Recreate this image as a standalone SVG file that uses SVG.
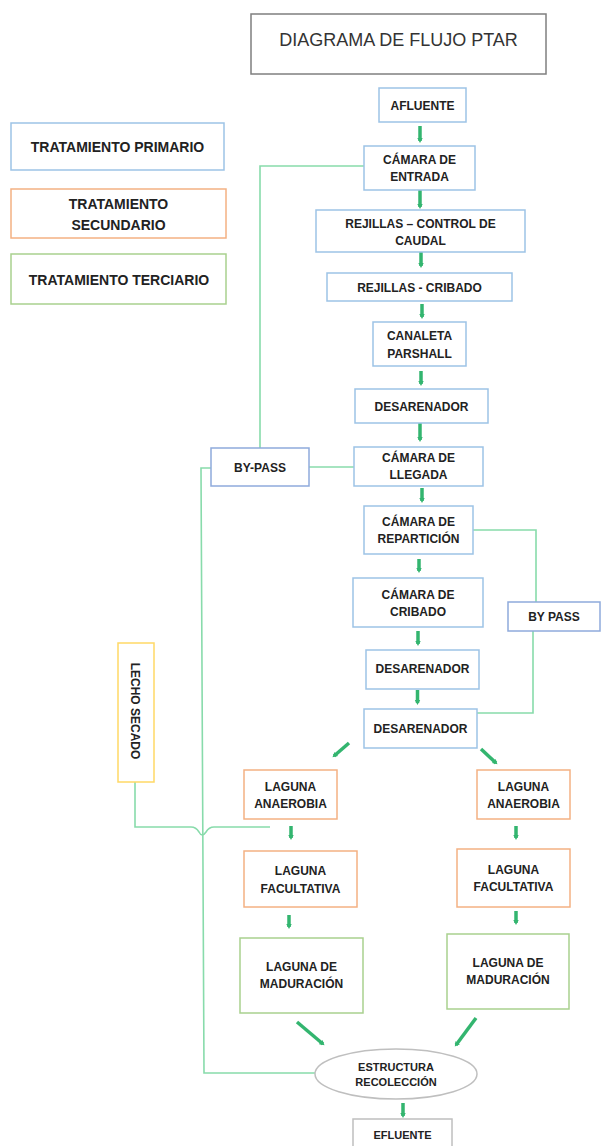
<svg xmlns="http://www.w3.org/2000/svg" width="605" height="1146" viewBox="0 0 605 1146">
<defs>
<marker id="ah" markerUnits="userSpaceOnUse" markerWidth="7" markerHeight="7" refX="3" refY="3.5" orient="auto">
<path d="M0,0.8 L5,3.5 L0,6.2 Z" fill="#33b56f"/>
</marker>
<style>
.bx{fill:#fff;stroke-width:1.5}
.blue{stroke:#9dc3e6}
.blue2{stroke:#8faadc}
.org{stroke:#f4b183}
.grn{stroke:#a9d18e}
.yel{stroke:#ffd966}
.gry{stroke:#bfbfbf}
.t{font-family:"Liberation Sans",Arial,sans-serif;font-weight:bold;font-size:12px;fill:#222;text-anchor:middle}
.lg{font-size:14px}
.sm{font-size:11px}
.con{fill:none;stroke:#88dbab;stroke-width:1.6}
.arr{fill:none;stroke:#33b56f;stroke-width:3.5;marker-end:url(#ah)}
</style>
</defs>
<rect width="605" height="1146" fill="#fff"/>

<g id="title">
<rect x="251" y="14" width="295" height="60" fill="#fff" stroke="#7f7f7f" stroke-width="1.5"/>
<text x="398.5" y="46" font-family="Liberation Sans,Arial,sans-serif" font-size="18" fill="#333" text-anchor="middle">DIAGRAMA DE FLUJO PTAR</text>
</g>

<g id="legend-primario"><rect class="bx blue" x="11" y="123" width="213" height="47"/><text class="t lg" x="117.5" y="152">TRATAMIENTO PRIMARIO</text></g>
<g id="legend-secundario"><rect class="bx org" x="11" y="189" width="215" height="49"/><text class="t lg" x="118.5" y="209">TRATAMIENTO</text><text class="t lg" x="118.5" y="230">SECUNDARIO</text></g>
<g id="legend-terciario"><rect class="bx grn" x="11" y="254" width="215" height="50"/><text class="t lg" x="119" y="285">TRATAMIENTO TERCIARIO</text></g>

<g id="connectors">
<path class="con" d="M364,166 H260 V448"/>
<path class="con" d="M309,467 H354"/>
<path class="con" d="M211,468 H201 L204,1073 H315"/>
<path class="con" d="M473,530 H536 V602"/>
<path class="con" d="M533,631 V713 H477"/>
<path class="con" d="M135,782 V827 H191 Q196,827 199,832 Q202,838 206,832 Q209,827 214,827 H270"/>
<line class="arr" x1="420" y1="126" x2="420" y2="141"/>
<line class="arr" x1="420" y1="190" x2="420" y2="207"/>
<line class="arr" x1="421" y1="252" x2="421" y2="266"/>
<line class="arr" x1="422" y1="304" x2="422" y2="317"/>
<line class="arr" x1="421" y1="371" x2="421" y2="384"/>
<line class="arr" x1="420" y1="423" x2="420" y2="440"/>
<line class="arr" x1="422" y1="488" x2="422" y2="501"/>
<line class="arr" x1="419" y1="559" x2="419" y2="571"/>
<line class="arr" x1="418" y1="631" x2="418" y2="644"/>
<line class="arr" x1="417.5" y1="690" x2="417.5" y2="703"/>
<line class="arr" x1="349" y1="743" x2="334" y2="756" stroke-width="4.5"/>
<line class="arr" x1="481" y1="749" x2="496" y2="763" stroke-width="4.5"/>
<line class="arr" x1="291" y1="826" x2="291" y2="838"/>
<line class="arr" x1="289" y1="915" x2="289" y2="927"/>
<line class="arr" x1="516" y1="826" x2="516" y2="838"/>
<line class="arr" x1="516" y1="911" x2="516" y2="923"/>
<line class="arr" x1="297" y1="1022" x2="323" y2="1044"/>
<line class="arr" x1="476" y1="1018" x2="456" y2="1045"/>
<line class="arr" x1="403" y1="1103" x2="403" y2="1116"/>
</g>

<g id="afluente"><rect class="bx blue" x="379" y="88" width="87" height="34"/><text class="t" x="422.5" y="109.5">AFLUENTE</text></g>
<g id="camara-entrada"><rect class="bx blue" x="364" y="146" width="111" height="44"/><text class="t" x="419.5" y="163.5">CÁMARA DE</text><text class="t" x="419.5" y="181">ENTRADA</text></g>
<g id="rejillas-control"><rect class="bx blue" x="316" y="210" width="209" height="42"/><text class="t" x="420.5" y="227.5">REJILLAS – CONTROL DE</text><text class="t" x="420.5" y="245">CAUDAL</text></g>
<g id="rejillas-cribado"><rect class="bx blue" x="327" y="273" width="185" height="28"/><text class="t" x="419.5" y="291.5">REJILLAS - CRIBADO</text></g>
<g id="canaleta"><rect class="bx blue" x="373" y="322" width="93" height="44"/><text class="t" x="419.5" y="340">CANALETA</text><text class="t" x="419.5" y="357.5">PARSHALL</text></g>
<g id="desarenador-1"><rect class="bx blue" x="355" y="389" width="133" height="34"/><text class="t" x="421.5" y="411">DESARENADOR</text></g>
<g id="camara-llegada"><rect class="bx blue" x="354" y="447" width="129" height="39"/><text class="t" x="418.5" y="462">CÁMARA DE</text><text class="t" x="418.5" y="479">LLEGADA</text></g>
<g id="by-pass-left"><rect class="bx blue2" x="211" y="448" width="98" height="38"/><text class="t" x="260" y="472" font-size="13">BY-PASS</text></g>
<g id="camara-reparticion"><rect class="bx blue" x="364" y="506" width="109" height="48"/><text class="t" x="418.5" y="526">CÁMARA DE</text><text class="t" x="418.5" y="543">REPARTICIÓN</text></g>
<g id="camara-cribado"><rect class="bx blue" x="353" y="578" width="130" height="49"/><text class="t" x="418" y="598.5">CÁMARA DE</text><text class="t" x="418" y="616">CRIBADO</text></g>
<g id="desarenador-2"><rect class="bx blue" x="366" y="650" width="113" height="39"/><text class="t" x="422.5" y="673">DESARENADOR</text></g>
<g id="desarenador-3"><rect class="bx blue" x="364" y="709" width="113" height="39"/><text class="t" x="420.5" y="733">DESARENADOR</text></g>
<g id="by-pass-right"><rect class="bx blue2" x="508" y="602" width="92" height="29"/><text class="t" x="554" y="620.5" font-size="13">BY PASS</text></g>

<g id="lecho-secado"><rect class="bx yel" x="118" y="643" width="36" height="139"/><text class="t" x="0" y="0" font-size="13.5" transform="translate(131,711) rotate(90)">LECHO SECADO</text></g>

<g id="anaerobia-left"><rect class="bx org" x="244" y="770" width="93" height="49"/><text class="t" x="290.5" y="791">LAGUNA</text><text class="t" x="290.5" y="807.5">ANAEROBIA</text></g>
<g id="anaerobia-right"><rect class="bx org" x="477" y="770" width="93" height="49"/><text class="t" x="523.5" y="791">LAGUNA</text><text class="t" x="523.5" y="807.5">ANAEROBIA</text></g>
<g id="facultativa-left"><rect class="bx org" x="244" y="851" width="113" height="56"/><text class="t" x="300.5" y="875">LAGUNA</text><text class="t" x="300.5" y="892.5">FACULTATIVA</text></g>
<g id="facultativa-right"><rect class="bx org" x="457" y="849" width="113" height="58"/><text class="t" x="513.5" y="873.5">LAGUNA</text><text class="t" x="513.5" y="891">FACULTATIVA</text></g>
<g id="maduracion-left"><rect class="bx grn" x="240" y="938" width="123" height="75"/><text class="t" x="301.5" y="971">LAGUNA DE</text><text class="t" x="301.5" y="988">MADURACIÓN</text></g>
<g id="maduracion-right"><rect class="bx grn" x="447" y="934" width="122" height="75"/><text class="t" x="508" y="967">LAGUNA DE</text><text class="t" x="508" y="984">MADURACIÓN</text></g>

<g id="estructura-recoleccion"><ellipse class="bx gry" cx="396" cy="1074" rx="81" ry="25"/><text class="t sm" x="396" y="1070.5">ESTRUCTURA</text><text class="t sm" x="396" y="1086">RECOLECCIÓN</text></g>
<g id="efluente"><rect class="bx gry" x="353" y="1119" width="99" height="35"/><text class="t sm" x="402.5" y="1139">EFLUENTE</text></g>
</svg>
